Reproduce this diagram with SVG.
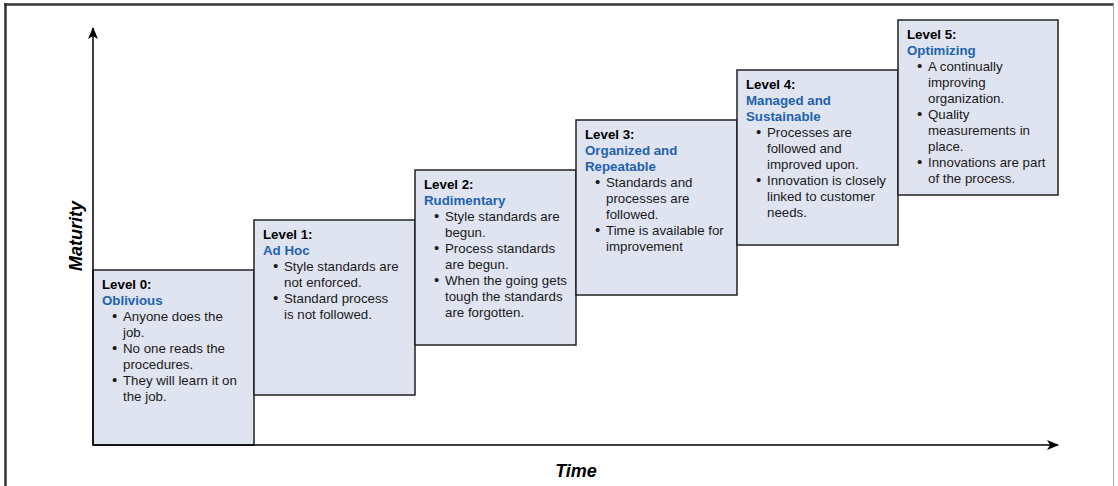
<svg xmlns="http://www.w3.org/2000/svg" width="1118" height="486" viewBox="0 0 1118 486">
<defs>
<style>
text{font-family:"Liberation Sans",Arial,sans-serif;font-size:13.3px;fill:#1a1a1a}
.box{fill:#e0e4f0;stroke:#222;stroke-width:1.5}
.lv{font-weight:bold;fill:#000}
.nm{font-weight:bold;fill:#1f62ae}
.bu{font-size:15px}
.ax{stroke:#000;stroke-width:1.5;fill:none}
.lab{font-weight:bold;font-style:italic;font-size:18px;fill:#000}
</style>
<marker id="ah" viewBox="0 0 12 10" refX="11" refY="5" markerWidth="12" markerHeight="10" markerUnits="userSpaceOnUse" orient="auto">
<path d="M0,0 L12,5 L0,10 L3,5 Z" fill="#000"/>
</marker>
</defs>
<rect x="0" y="0" width="1118" height="486" fill="#fff"/>
<g id="frame">
<line x1="5.5" y1="3" x2="5.5" y2="486" stroke="#333" stroke-width="2.5"/>
<line x1="4" y1="4.5" x2="1114" y2="4.5" stroke="#333" stroke-width="2.5"/>
<line x1="1113.5" y1="4" x2="1113.5" y2="486" stroke="#aaa" stroke-width="1"/>
</g>
<g id="level0">
<rect class="box" x="93" y="270" width="161" height="175"/>
<text class="lv" x="102" y="289">Level 0:</text>
<text class="nm" x="102" y="305">Oblivious</text>
<text class="bu" x="112" y="321">•</text><text x="123" y="321">Anyone does the</text>
<text x="123" y="337">job.</text>
<text class="bu" x="112" y="353">•</text><text x="123" y="353">No one reads the</text>
<text x="123" y="369">procedures.</text>
<text class="bu" x="112" y="385">•</text><text x="123" y="385">They will learn it on</text>
<text x="123" y="401">the job.</text>
</g>
<g id="level1">
<rect class="box" x="254" y="220" width="161" height="175"/>
<text class="lv" x="263" y="239">Level 1:</text>
<text class="nm" x="263" y="255">Ad Hoc</text>
<text class="bu" x="273" y="271">•</text><text x="284" y="271">Style standards are</text>
<text x="284" y="287">not enforced.</text>
<text class="bu" x="273" y="303">•</text><text x="284" y="303">Standard process</text>
<text x="284" y="319">is not followed.</text>
</g>
<g id="level2">
<rect class="box" x="415" y="170" width="161" height="175"/>
<text class="lv" x="424" y="189">Level 2:</text>
<text class="nm" x="424" y="205">Rudimentary</text>
<text class="bu" x="434" y="221">•</text><text x="445" y="221">Style standards are</text>
<text x="445" y="237">begun.</text>
<text class="bu" x="434" y="253">•</text><text x="445" y="253">Process standards</text>
<text x="445" y="269">are begun.</text>
<text class="bu" x="434" y="285">•</text><text x="445" y="285">When the going gets</text>
<text x="445" y="301">tough the standards</text>
<text x="445" y="317">are forgotten.</text>
</g>
<g id="level3">
<rect class="box" x="576" y="120" width="161" height="175"/>
<text class="lv" x="585" y="139">Level 3:</text>
<text class="nm" x="585" y="155">Organized and</text>
<text class="nm" x="585" y="171">Repeatable</text>
<text class="bu" x="595" y="187">•</text><text x="606" y="187">Standards and</text>
<text x="606" y="203">processes are</text>
<text x="606" y="219">followed.</text>
<text class="bu" x="595" y="235">•</text><text x="606" y="235">Time is available for</text>
<text x="606" y="251">improvement</text>
</g>
<g id="level4">
<rect class="box" x="737" y="70" width="161" height="175"/>
<text class="lv" x="746" y="89">Level 4:</text>
<text class="nm" x="746" y="105">Managed and</text>
<text class="nm" x="746" y="121">Sustainable</text>
<text class="bu" x="756" y="137">•</text><text x="767" y="137">Processes are</text>
<text x="767" y="153">followed and</text>
<text x="767" y="169">improved upon.</text>
<text class="bu" x="756" y="185">•</text><text x="767" y="185">Innovation is closely</text>
<text x="767" y="201">linked to customer</text>
<text x="767" y="217">needs.</text>
</g>
<g id="level5">
<rect class="box" x="898" y="20" width="160" height="175"/>
<text class="lv" x="907" y="39">Level 5:</text>
<text class="nm" x="907" y="55">Optimizing</text>
<text class="bu" x="917" y="71">•</text><text x="928" y="71">A continually</text>
<text x="928" y="87">improving</text>
<text x="928" y="103">organization.</text>
<text class="bu" x="917" y="119">•</text><text x="928" y="119">Quality</text>
<text x="928" y="135">measurements in</text>
<text x="928" y="151">place.</text>
<text class="bu" x="917" y="167">•</text><text x="928" y="167">Innovations are part</text>
<text x="928" y="183">of the process.</text>
</g>
<g id="connectors">
<line class="ax" x1="93" y1="445" x2="93" y2="28" marker-end="url(#ah)"/>
<line class="ax" x1="93" y1="445" x2="1058" y2="445" marker-end="url(#ah)"/>
</g>
<g id="labels">
<text class="lab" x="576" y="477" text-anchor="middle">Time</text>
<text class="lab" transform="translate(82,236) rotate(-90)" text-anchor="middle">Maturity</text>
</g>
</svg>
